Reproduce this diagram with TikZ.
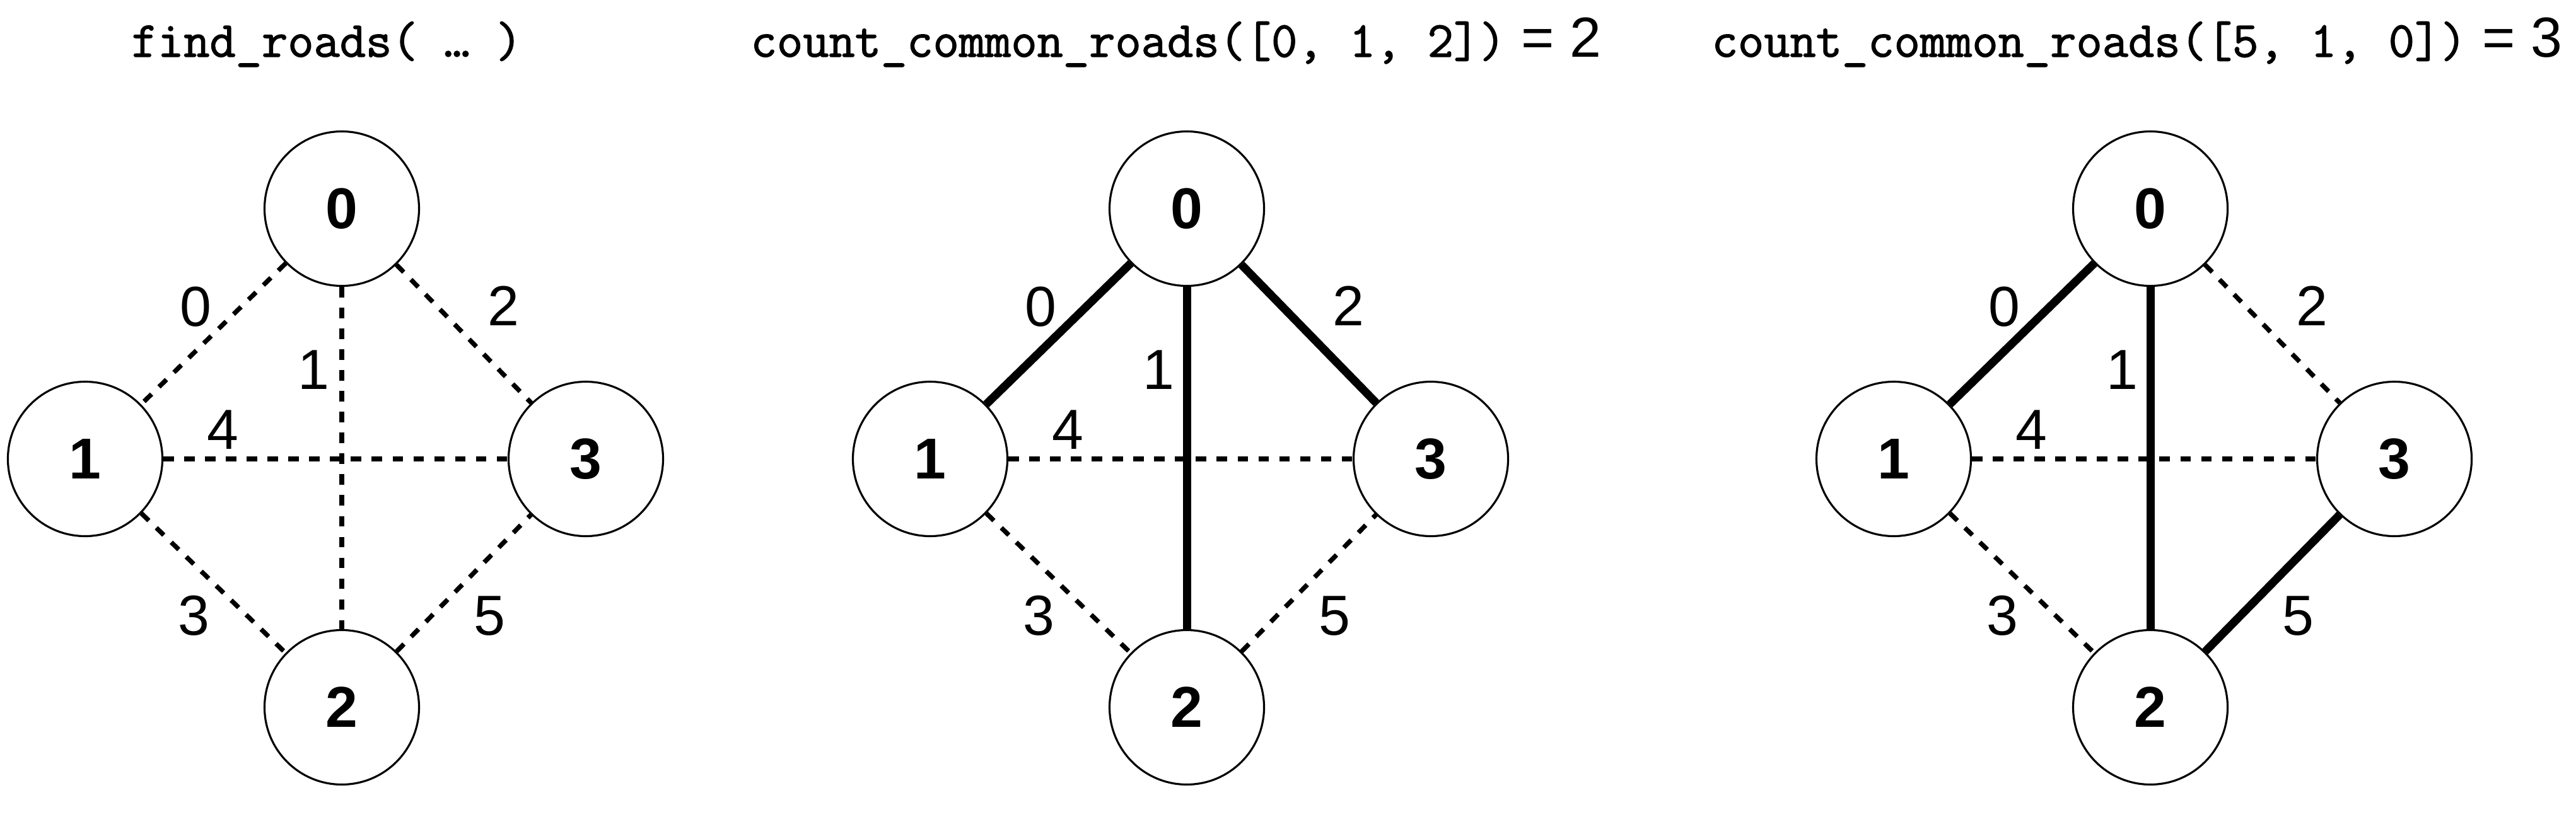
\documentclass[tikz,border=0pt]{standalone}
\usepackage{fontspec}
\setsansfont{Liberation Sans}
\newfontfamily\codefont{Latin Modern Mono}[FakeBold=1.6]
\usepackage{tikz}
\usetikzlibrary{positioning}

\begin{document}
\begin{tikzpicture}[city/.style={circle,draw,line width=0.9pt,minimum size=2.45cm,inner sep=0pt,font=\sffamily\bfseries\fontsize{26pt}{30pt}\selectfont},
    roadnum/.style={inner sep=0pt,font=\sffamily\fontsize{25.5pt}{30pt}\selectfont},
    title/.style={anchor=base west,inner sep=0pt,font=\codefont\fontsize{22.8pt}{26pt}\selectfont},
    road/.style={line width=2.1pt,dash pattern=on 4.7pt off 4.7pt},
    common/.style={line width=3.7pt}]
\useasboundingbox (0,0) rectangle (40.85,-13.22);
% Titles
\node[title] (find_title) at (2.08,-0.90) {find\_roads( \ldots{} )};
\node[title] (cnt_a_title) at (11.90,-0.90) {count\_common\_roads([0, 1, 2])\textsf{\fontsize{25.5pt}{30pt}\selectfont{} = 2}};
\node[title] (cnt_b_title) at (27.14,-0.90) {count\_common\_roads([5, 1, 0])\textsf{\fontsize{25.5pt}{30pt}\selectfont{} = 3}};
% Graph for find_roads
\node[city] (find_0) at (5.42,-3.31) {0};
\node[city] (find_1) at (1.35,-7.28) {1};
\node[city] (find_3) at (9.29,-7.28) {3};
\node[city] (find_2) at (5.42,-11.22) {2};
\node[roadnum] (find_r0) at (3.10,-4.87) {0};
\node[roadnum] (find_r1) at (4.97,-5.87) {1};
\node[roadnum] (find_r2) at (7.98,-4.85) {2};
\node[roadnum] (find_r3) at (3.07,-9.77) {3};
\node[roadnum] (find_r4) at (3.53,-6.82) {4};
\node[roadnum] (find_r5) at (7.76,-9.77) {5};
\draw[road] (find_0) -- (find_1);
\draw[road] (find_0) -- (find_2);
\draw[road] (find_0) -- (find_3);
\draw[road] (find_1) -- (find_2);
\draw[road] (find_1) -- (find_3);
\draw[road] (find_2) -- (find_3);
% Graph for count_common_roads([0, 1, 2])
\node[city] (cnt_a_0) at (18.82,-3.31) {0};
\node[city] (cnt_a_1) at (14.75,-7.28) {1};
\node[city] (cnt_a_3) at (22.69,-7.28) {3};
\node[city] (cnt_a_2) at (18.82,-11.22) {2};
\node[roadnum] (cnt_a_r0) at (16.50,-4.87) {0};
\node[roadnum] (cnt_a_r1) at (18.37,-5.87) {1};
\node[roadnum] (cnt_a_r2) at (21.38,-4.85) {2};
\node[roadnum] (cnt_a_r3) at (16.47,-9.77) {3};
\node[roadnum] (cnt_a_r4) at (16.93,-6.82) {4};
\node[roadnum] (cnt_a_r5) at (21.16,-9.77) {5};
\draw[road] (cnt_a_1) -- (cnt_a_2);
\draw[road] (cnt_a_1) -- (cnt_a_3);
\draw[road] (cnt_a_2) -- (cnt_a_3);
\draw[common] (cnt_a_0) -- (cnt_a_1);
\draw[common] (cnt_a_0) -- (cnt_a_2);
\draw[common] (cnt_a_0) -- (cnt_a_3);
% Graph for count_common_roads([5, 1, 0])
\node[city] (cnt_b_0) at (34.10,-3.31) {0};
\node[city] (cnt_b_1) at (30.03,-7.28) {1};
\node[city] (cnt_b_3) at (37.97,-7.28) {3};
\node[city] (cnt_b_2) at (34.10,-11.22) {2};
\node[roadnum] (cnt_b_r0) at (31.78,-4.87) {0};
\node[roadnum] (cnt_b_r1) at (33.65,-5.87) {1};
\node[roadnum] (cnt_b_r2) at (36.66,-4.85) {2};
\node[roadnum] (cnt_b_r3) at (31.75,-9.77) {3};
\node[roadnum] (cnt_b_r4) at (32.21,-6.82) {4};
\node[roadnum] (cnt_b_r5) at (36.44,-9.77) {5};
\draw[road] (cnt_b_0) -- (cnt_b_3);
\draw[road] (cnt_b_1) -- (cnt_b_2);
\draw[road] (cnt_b_1) -- (cnt_b_3);
\draw[common] (cnt_b_0) -- (cnt_b_1);
\draw[common] (cnt_b_0) -- (cnt_b_2);
\draw[common] (cnt_b_2) -- (cnt_b_3);
\end{tikzpicture}
\end{document}
